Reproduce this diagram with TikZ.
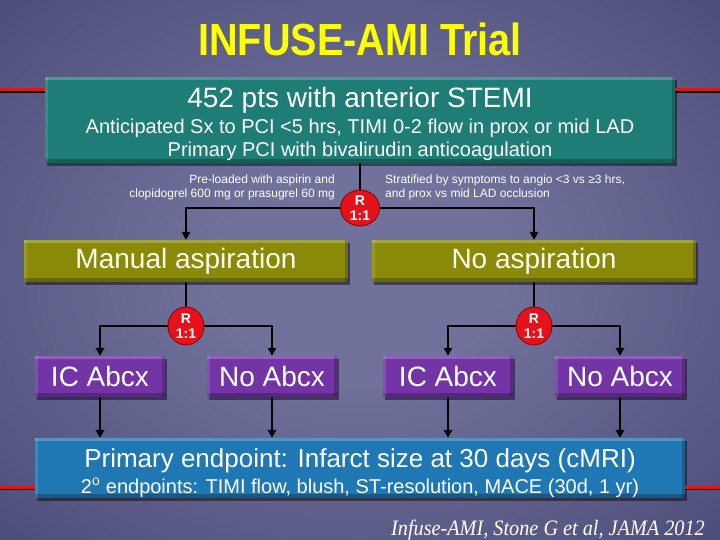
\documentclass[tikz,border=0pt]{standalone}
\usepackage{fontspec}
\setmainfont{Liberation Sans}
\newfontfamily\citefont{Liberation Serif}
\usetikzlibrary{arrows.meta,shapes.geometric,shadows}
\definecolor{bgin}{HTML}{70729C}
\definecolor{bgmid}{HTML}{383864}
\definecolor{bgout}{HTML}{1A1A3E}
\definecolor{tealbox}{HTML}{1E7D76}
\definecolor{olivebox}{HTML}{8A8A08}
\definecolor{purplebox}{HTML}{7335A6}
\definecolor{bluebox}{HTML}{1F78B4}
\definecolor{rbred}{HTML}{E5121B}
\definecolor{sidered}{HTML}{E01515}
\definecolor{titleyellow}{HTML}{FFFF00}
\pgfdeclareradialshading{bgshade}{\pgfpoint{0bp}{0bp}}{color(0bp)=(bgin); color(10bp)=(bgin); color(50bp)=(bgmid); color(71bp)=(bgout)}
\tikzset{
  fs/.style={font=\fontsize{#1}{#1}\selectfont},
  boxst/.style={inner sep=0pt, draw=none, text=white,
    drop shadow={shadow xshift=2pt, shadow yshift=-3pt, opacity=.45, fill=black},
    path picture={
      \fill[white,opacity=.22] (path picture bounding box.north west) rectangle ([yshift=-3pt]path picture bounding box.north east);
      \fill[black,opacity=.25] (path picture bounding box.south west) rectangle ([yshift=4pt]path picture bounding box.south east);
      \fill[black,opacity=.2] ([xshift=-3pt]path picture bounding box.north east) rectangle (path picture bounding box.south east);
      \fill[white,opacity=.12] (path picture bounding box.north west) rectangle ([xshift=3pt]path picture bounding box.south west);
    }},
  rnode/.style={ellipse, fill=rbred, draw=red!50!black, line width=.8pt, inner sep=0pt,
    text=white, align=center, font=\bfseries\fontsize{14}{15.5}\selectfont},
  conn/.style={draw=black, line width=2.5pt},
  arr/.style={conn, -{Triangle[length=8pt,width=8.5pt]}},
  sideline/.style={draw=sidered, line width=3pt},
  sideshadow/.style={draw=black, line width=2pt},
  wtxt/.style={text=white, inner sep=0pt, anchor=base}
}
\begin{document}
\begin{tikzpicture}[x=1pt,y=-1pt]
\useasboundingbox (0,0) rectangle (720,540);
\shade[shading=bgshade] (0,0) rectangle (720,540);

% title
\node[wtxt, text=titleyellow, font=\bfseries\fontsize{45}{50}\selectfont] (title) at (360,56) {\scalebox{0.88}[1]{INFUSE-AMI Trial}};

% top box
\node[boxst, fill=tealbox, minimum width=630pt, minimum height=86pt] (top) at (360,120) {};
\node[wtxt, fs=28] (t1) at (360,108) {452 pts with anterior STEMI};
\node[wtxt, fs=20] (t2) at (360,134) {Anticipated Sx to PCI <5 hrs, TIMI 0-2 flow in prox or mid LAD};
\node[wtxt, fs=20] (t3) at (360,157) {Primary PCI with bivalirudin anticoagulation};

% side lines top
\coordinate (lt) at (0,90);
\coordinate (rt) at (720,90);
\draw[sideshadow] ([yshift=-2pt]lt) -- ([yshift=-2pt]lt -| top.west);
\draw[sideshadow] ([yshift=-2pt]rt) -- ([yshift=-2pt]rt -| top.east);
\draw[sideline] (lt) -- (lt -| top.west);
\draw[sideline] (rt) -- (rt -| top.east);

% notes
\node[wtxt, fs=12, anchor=base east, align=right] (n1) at (335,184) {Pre-loaded with aspirin and};
\node[wtxt, fs=12, anchor=base east, align=right] (n2) at (335,197) {clopidogrel 600 mg or prasugrel 60 mg};
\node[wtxt, fs=12, anchor=base west] (n3) at (385,184) {Stratified by symptoms to angio <3 vs ≥3 hrs,};
\node[wtxt, fs=12, anchor=base west] (n4) at (385,197) {and prox vs mid LAD occlusion};

% aspiration boxes
\node[boxst, fill=olivebox, minimum width=324pt, minimum height=42pt, fs=28, text=white!95!yellow] (man) at (186,261) {Manual aspiration};
\node[boxst, fill=olivebox, minimum width=324pt, minimum height=42pt, fs=28, text=white!95!yellow] (noa) at (534,261) {No aspiration};

% purple boxes
\node[boxst, fill=purplebox, minimum width=130pt, minimum height=41pt, fs=28] (ic1) at (100,376.5) {IC Abcx};
\node[boxst, fill=purplebox, minimum width=130pt, minimum height=41pt, fs=28] (no1) at (272,376.5) {No Abcx};
\node[boxst, fill=purplebox, minimum width=130pt, minimum height=41pt, fs=28] (ic2) at (448,376.5) {IC Abcx};
\node[boxst, fill=purplebox, minimum width=130pt, minimum height=41pt, fs=28] (no2) at (620,376.5) {No Abcx};

% bottom box
\node[boxst, fill=bluebox, minimum width=650pt, minimum height=60pt] (bot) at (360,468) {};
\node[wtxt, fs=26] (b1) at (360,467) {Primary endpoint: Infarct size at 30 days (cMRI)};
\node[wtxt, fs=20] (b2) at (360,493) {2\textsuperscript{o} endpoints: TIMI flow, blush, ST-resolution, MACE (30d, 1 yr)};

\coordinate (lb) at (0,487);
\coordinate (rb) at (720,487);
\draw[sideshadow] ([yshift=-2pt]lb) -- ([yshift=-2pt]lb -| bot.west);
\draw[sideshadow] ([yshift=-2pt]rb) -- ([yshift=-2pt]rb -| bot.east);
\draw[sideline] (lb) -- (lb -| bot.west);
\draw[sideline] (rb) -- (rb -| bot.east);

% connectors (drawn before circles)
\coordinate (r0c) at (360,208);
\coordinate (r1c) at (186,326);
\coordinate (r2c) at (534,326);
\draw[conn] (top.south) -- (r0c);
\draw[arr] (r0c) -| (man.north);
\draw[arr] (r0c) -| (noa.north);
\draw[conn] (man.south) -- (r1c);
\draw[conn] (noa.south) -- (r2c);
\draw[arr] (r1c) -| (ic1.north);
\draw[arr] (r1c) -| (no1.north);
\draw[arr] (r2c) -| (ic2.north);
\draw[arr] (r2c) -| (no2.north);
\foreach \b in {ic1,no1,ic2,no2} {
  \draw[arr] (\b.south) -- (\b.south |- bot.north);
}

% randomisation circles
\node[rnode, minimum width=39pt, minimum height=36pt] (r0) at (r0c) {R\\1:1};
\node[rnode, minimum width=36pt, minimum height=38pt] (r1) at (r1c) {R\\1:1};
\node[rnode, minimum width=36pt, minimum height=38pt] (r2) at (r2c) {R\\1:1};

% citation
\node[wtxt, anchor=base east, font=\citefont\itshape\fontsize{22}{24}\selectfont] (cite) at (705,535) {\scalebox{0.92}[1]{Infuse-AMI, Stone G et al, JAMA 2012}};
\end{tikzpicture}
\end{document}
